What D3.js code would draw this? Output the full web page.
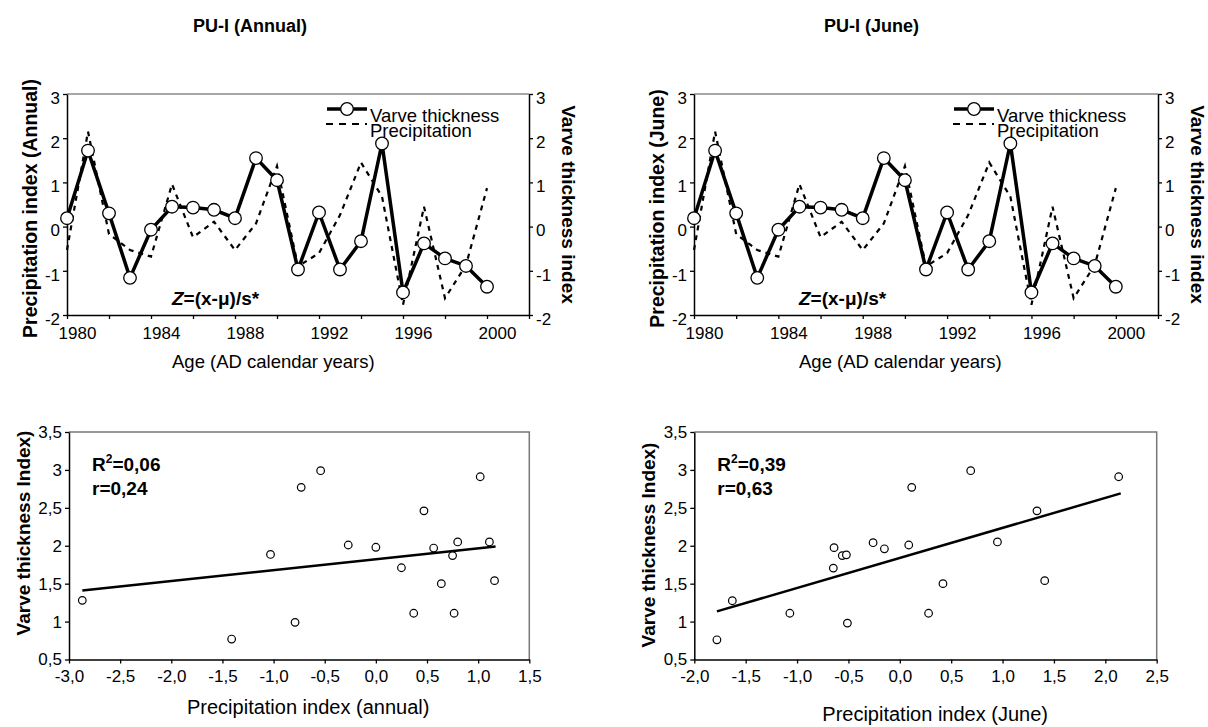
<!DOCTYPE html>
<html><head><meta charset="utf-8">
<script src="https://cdn.jsdelivr.net/npm/d3@7"></script>
<style>
body{margin:0;background:#fff}
svg{display:block}
text{font-family:"Liberation Sans",Arial,Helvetica,sans-serif;fill:#000}
</style></head><body>
<svg id="c" width="1208" height="727"></svg>
<script>
// ---------------- DATA ----------------
const years = [1980,1981,1982,1983,1984,1985,1986,1987,1988,1989,1990,1991,1992,1993,1994,1995,1996,1997,1998,1999,2000];
const varveAnnual  = [0.19,1.72,0.30,-1.16,-0.07,0.45,0.43,0.38,0.19,1.55,1.05,-0.97,0.32,-0.97,-0.33,1.88,-1.49,-0.38,-0.72,-0.89,-1.36];
const precipAnnual = [-0.53,2.15,-0.17,-0.53,-0.68,0.96,-0.24,0.11,-0.53,0.07,1.37,-0.90,-0.60,0.26,1.45,0.68,-1.77,0.45,-1.62,-0.87,0.87];
const varveJune    = [0.19,1.72,0.30,-1.16,-0.07,0.45,0.43,0.38,0.19,1.55,1.05,-0.97,0.32,-0.97,-0.33,1.88,-1.49,-0.38,-0.72,-0.89,-1.36];
const precipJune   = [-0.53,2.15,-0.17,-0.53,-0.68,0.96,-0.24,0.11,-0.53,0.07,1.37,-0.90,-0.60,0.26,1.45,0.68,-1.77,0.45,-1.62,-0.87,0.87];
const yearTicks      = [1980,1982,1984,1986,1988,1990,1992,1994,1996,1998,2000,2002];
const yearTickLabels = [1980,1984,1988,1992,1996,2000];
const indexTicks     = [-2,-1,0,1,2,3];

const scatterAnnualX = [-2.87,-1.41,-1.03,-0.79,-0.73,-0.54,-0.27,0.00,0.25,0.37,0.47,0.565,0.64,0.75,0.765,0.80,1.02,1.11,1.16];
const scatterAnnualY = [1.28,0.77,1.885,0.99,2.77,2.99,2.01,1.98,1.71,1.11,2.46,1.97,1.50,1.87,1.11,2.05,2.91,2.05,1.54];
const trendAnnualX = [-2.87,1.17];
const trendAnnualY = [1.41,1.99];
const scatterJuneX = [-1.78,-1.63,-1.07,-0.64,-0.647,-0.56,-0.52,-0.51,-0.26,-0.15,0.087,0.116,0.28,0.42,0.69,0.95,1.335,1.41,2.13];
const scatterJuneY = [0.76,1.275,1.11,1.975,1.705,1.87,1.88,0.98,2.04,1.96,2.01,2.77,1.11,1.50,2.99,2.05,2.46,1.54,2.91];
const trendJuneX = [-1.78,2.15];
const trendJuneY = [1.135,2.69];
const scatterAnnualXTicks = [-3.0,-2.5,-2.0,-1.5,-1.0,-0.5,0.0,0.5,1.0,1.5];
const scatterJuneXTicks   = [-2.0,-1.5,-1.0,-0.5,0.0,0.5,1.0,1.5,2.0,2.5];
const thickTicks = [0.5,1,1.5,2,2.5,3,3.5];

// ---------------- DRAW ----------------
const svg = d3.select("#c");
svg.append("rect").attr("width",1208).attr("height",727).attr("fill","#fff");
const commaFmt = d => String(d).replace(".", ",");
const oneDec = d => d.toFixed(1).replace(".", ",");

function styleAxis(g, fs){
  g.select(".domain").attr("stroke","#000").attr("stroke-width",1.5);
  g.selectAll(".tick line").attr("stroke","#000").attr("stroke-width",1.3);
  g.selectAll(".tick text").attr("font-size",fs).attr("fill","#000")
    .style("font-family",'"Liberation Sans",Arial,sans-serif');
}

function drawTS(L, R, title, titleDx, yTitle, varve, precip){
  const T = 94, B = 315;
  const x = d3.scaleLinear().domain([1980,2002]).range([L,R]);
  const y = d3.scaleLinear().domain([-2,3]).range([B,T]);
  const g = svg.append("g");

  g.append("line").attr("x1",L).attr("x2",R).attr("y1",T).attr("y2",T)
    .attr("stroke","#888").attr("stroke-width",1.5);

  const ax = g.append("g").attr("transform",`translate(0,${B})`)
    .call(d3.axisBottom(x).tickValues(yearTicks).tickSize(4).tickSizeOuter(0).tickPadding(8)
      .tickFormat(d => yearTickLabels.includes(d) ? String(d) : ""));
  styleAxis(ax, 17);
  ax.selectAll(".tick text").attr("dx", 10);

  const ayl = g.append("g").attr("transform",`translate(${L},0)`)
    .call(d3.axisLeft(y).tickValues(indexTicks).tickSize(4).tickSizeOuter(0).tickPadding(3).tickFormat(d=>String(d)));
  styleAxis(ayl, 17);
  ayl.selectAll(".tick text").attr("dy","0.55em");

  const ayr = g.append("g").attr("transform",`translate(${R},0)`)
    .call(d3.axisRight(y).tickValues(indexTicks).tickSize(4).tickSizeOuter(0).tickPadding(3).tickFormat(d=>String(d)));
  styleAxis(ayr, 17);
  ayr.selectAll(".tick text").attr("dy","0.55em");

  const line = d3.line().x((d,i)=>x(years[i])).y(d=>y(d));
  g.append("path").datum(precip).attr("d",line).attr("fill","none")
    .attr("stroke","#000").attr("stroke-width",2.2).attr("stroke-dasharray","5,5");
  g.append("path").datum(varve).attr("d",line).attr("fill","none")
    .attr("stroke","#000").attr("stroke-width",3.5).attr("stroke-linejoin","miter");
  g.selectAll("circle.v").data(varve).join("circle")
    .attr("cx",(d,i)=>x(years[i])).attr("cy",d=>y(d)).attr("r",6.3)
    .attr("fill","#fff").attr("stroke","#000").attr("stroke-width",1.3);

  // legend
  const lx = L + 260;
  g.append("line").attr("x1",lx).attr("x2",lx+40).attr("y1",109).attr("y2",109)
    .attr("stroke","#000").attr("stroke-width",3.5);
  g.append("circle").attr("cx",lx+20).attr("cy",109).attr("r",6.3)
    .attr("fill","#fff").attr("stroke","#000").attr("stroke-width",1.3);
  g.append("line").attr("x1",lx-1).attr("x2",lx+40).attr("y1",124).attr("y2",124)
    .attr("stroke","#000").attr("stroke-width",2).attr("stroke-dasharray","7,6");
  g.append("text").attr("x",lx+43).attr("y",121.5).attr("font-size",18.5).text("Varve thickness");
  g.append("text").attr("x",lx+43).attr("y",137).attr("font-size",18.5).text("Precipitation");

  // Z annotation
  const z = g.append("text").attr("x",L+105).attr("y",305).attr("font-size",19).attr("font-weight","bold");
  z.append("tspan").attr("font-style","italic").text("Z");
  z.append("tspan").text("=(x-μ)/s*");

  // titles
  g.append("text").attr("x",L+titleDx).attr("y",32).attr("font-size",18).attr("font-weight","bold").text(title);
  g.append("text").attr("transform",`translate(${L-30},${(T+B)/2+4}) rotate(-90)`)
    .attr("text-anchor","middle").attr("font-size",19.5).attr("font-weight","bold").text(yTitle);
  g.append("text").attr("transform",`translate(${R+33},${(T+B)/2}) rotate(90)`)
    .attr("text-anchor","middle").attr("font-size",19).attr("font-weight","bold").text("Varve thickness index");
  g.append("text").attr("x",L+105).attr("y",368).attr("font-size",18.5).text("Age (AD calendar years)");
}

function drawScatter(L, R, xDom, xTicks, xs, ys, tx, ty, r2, rr, xTitle, xTitleY, xTitleDx, yTitleC){
  const T = 432, B = 659.5;
  const x = d3.scaleLinear().domain(xDom).range([L,R]);
  const y = d3.scaleLinear().domain([0.5,3.5]).range([B,T]);
  const g = svg.append("g");

  g.append("path").attr("d",`M${L},${T}H${R}V${B}`).attr("fill","none")
    .attr("stroke","#777").attr("stroke-width",1.5);

  const ax = g.append("g").attr("transform",`translate(0,${B})`)
    .call(d3.axisBottom(x).tickValues(xTicks).tickSize(4).tickSizeOuter(0).tickPadding(6).tickFormat(oneDec));
  styleAxis(ax, 17);
  const ay = g.append("g").attr("transform",`translate(${L},0)`)
    .call(d3.axisLeft(y).tickValues(thickTicks).tickSize(4).tickSizeOuter(0).tickPadding(3).tickFormat(commaFmt));
  styleAxis(ay, 17);

  g.append("line").attr("x1",x(tx[0])).attr("y1",y(ty[0])).attr("x2",x(tx[1])).attr("y2",y(ty[1]))
    .attr("stroke","#000").attr("stroke-width",2.5);

  g.selectAll("circle.p").data(xs).join("circle")
    .attr("cx",d=>x(d)).attr("cy",(d,i)=>y(ys[i])).attr("r",3.8)
    .attr("fill","#fff").attr("stroke","#000").attr("stroke-width",1.2);

  const t1 = g.append("text").attr("x",L+23).attr("y",471).attr("font-size",19).attr("font-weight","bold");
  t1.append("tspan").text("R");
  t1.append("tspan").attr("font-size",12).attr("dy",-8).text("2");
  t1.append("tspan").attr("dy",8).text("=" + r2);
  g.append("text").attr("x",L+23).attr("y",495).attr("font-size",19).attr("font-weight","bold").text("r=" + rr);

  g.append("text").attr("transform",`translate(${L-39},${yTitleC}) rotate(-90)`)
    .attr("text-anchor","middle").attr("font-size",19).attr("font-weight","bold").text("Varve thickness Index)");
  g.append("text").attr("x",L+xTitleDx).attr("y",xTitleY).attr("font-size",20).text(xTitle);
}

drawTS(67, 529, "PU-I (Annual)", 126, "Precipitation index (Annual)", varveAnnual, precipAnnual);
drawTS(694, 1158, "PU-I (June)", 130, "Precipitation index (June)", varveJune, precipJune);
drawScatter(69, 529.3, [-3,1.5], scatterAnnualXTicks, scatterAnnualX, scatterAnnualY, trendAnnualX, trendAnnualY, "0,06", "0,24", "Precipitation index (annual)", 714, 118, 533);
drawScatter(694.3, 1156.7, [-2,2.5], scatterJuneXTicks, scatterJuneX, scatterJuneY, trendJuneX, trendJuneY, "0,39", "0,63", "Precipitation index (June)", 721, 128, 545);
</script>
</body></html>
